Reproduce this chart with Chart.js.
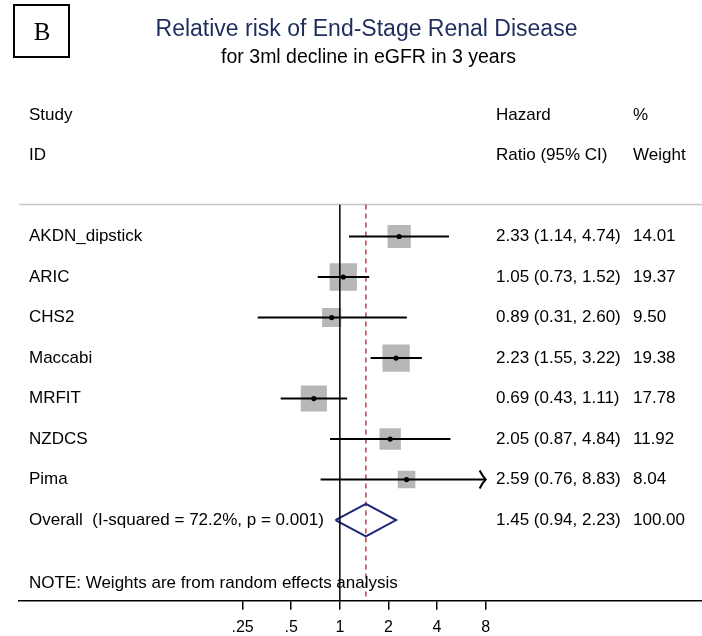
<!DOCTYPE html>
<html>
<head>
<meta charset="utf-8">
<script src="https://cdn.jsdelivr.net/npm/chart.js@4.4.0/dist/chart.umd.min.js"></script>
<style>
  html, body { margin: 0; padding: 0; background: #fff; }
  #chart { display: block; }
</style>
</head>
<body>
<canvas id="chart" width="702" height="636"></canvas>
<script>
// study rows, top to bottom
const studies = ["AKDN_dipstick", "ARIC", "CHS2", "Maccabi", "MRFIT", "NZDCS", "Pima"];
const hazard = [2.33, 1.05, 0.89, 2.23, 0.69, 2.05, 2.59];
const lower = [1.14, 0.73, 0.31, 1.55, 0.43, 0.87, 0.76];
const upper = [4.74, 1.52, 2.60, 3.22, 1.11, 4.84, 8.83];
const weights = [14.01, 19.37, 9.50, 19.38, 17.78, 11.92, 8.04];

// pooled estimate
const overallLabel = "Overall  (I-squared = 72.2%, p = 0.001)";
const overallHR = 1.45;
const overallLower = 0.94;
const overallUpper = 2.23;
const overallWeight = 100.0;

const tickValues = [0.25, 0.5, 1, 2, 4, 8];
const tickLabels = [".25", ".5", "1", "2", "4", "8"];

const FONT = '"Liberation Sans", Arial, sans-serif';
const yTop = -0.79;
const yBottom = 8.99;
const overallRow = studies.length;
const axisMax = tickValues[tickValues.length - 1];

const ciLabel = (e, l, u) => `${e.toFixed(2)} (${l.toFixed(2)}, ${u.toFixed(2)})`;

const forestText = {
  id: "forestText",
  beforeDatasetsDraw(chart) {
    const { ctx, chartArea } = chart;
    ctx.save();
    ctx.strokeStyle = "#c4c4c4";
    ctx.lineWidth = 1.5;
    ctx.beginPath();
    ctx.moveTo(chartArea.left, chartArea.top);
    ctx.lineTo(chartArea.right, chartArea.top);
    ctx.stroke();
    ctx.restore();
  },
  afterDatasetsDraw(chart) {
    const { ctx } = chart;
    const x = chart.scales.x;
    const y = chart.scales.y;
    ctx.save();
    ctx.strokeStyle = "#000";
    ctx.lineWidth = 2;
    upper.forEach((u, i) => {
      if (u <= axisMax) return;
      const px = x.getPixelForValue(axisMax);
      const py = y.getPixelForValue(i);
      ctx.beginPath();
      ctx.moveTo(px - 6, py - 9);
      ctx.quadraticCurveTo(px - 3, py - 3, px, py);
      ctx.quadraticCurveTo(px - 3, py + 3, px - 6, py + 9);
      ctx.stroke();
    });
    ctx.restore();
  },
  afterDraw(chart) {
    const { ctx, chartArea } = chart;
    const y = chart.scales.y;
    const colLabel = chartArea.left + 10;
    const colCI = 496;
    const colW = 633;
    ctx.save();

    // panel letter
    ctx.strokeStyle = "#000";
    ctx.lineWidth = 2;
    ctx.strokeRect(14, 5, 55, 52);
    ctx.fillStyle = "#000";
    ctx.font = '25px "Liberation Serif", "Times New Roman", serif';
    ctx.textAlign = "center";
    ctx.textBaseline = "alphabetic";
    ctx.fillText("B", 42, 40);

    // titles
    ctx.fillStyle = "#1e2d5e";
    ctx.font = "23px " + FONT;
    ctx.fillText("Relative risk of End-Stage Renal Disease", 366.5, 36);
    ctx.fillStyle = "#000";
    ctx.font = "19.5px " + FONT;
    ctx.fillText("for 3ml decline in eGFR in 3 years", 368.5, 63);

    // table text
    ctx.font = "17px " + FONT;
    ctx.textAlign = "left";
    ctx.textBaseline = "middle";
    const h1 = y.getPixelForValue(-3);
    const h2 = y.getPixelForValue(-2);
    ctx.fillText("Study", colLabel, h1);
    ctx.fillText("ID", colLabel, h2);
    ctx.fillText("Hazard", colCI, h1);
    ctx.fillText("Ratio (95% CI)", colCI, h2);
    ctx.fillText("%", colW, h1);
    ctx.fillText("Weight", colW, h2);

    studies.forEach((s, i) => {
      const py = y.getPixelForValue(i);
      ctx.fillText(s, colLabel, py);
      ctx.fillText(ciLabel(hazard[i], lower[i], upper[i]), colCI, py);
      ctx.fillText(weights[i].toFixed(2), colW, py);
    });
    const po = y.getPixelForValue(overallRow);
    ctx.fillText(overallLabel, colLabel, po);
    ctx.fillText(ciLabel(overallHR, overallLower, overallUpper), colCI, po);
    ctx.fillText(overallWeight.toFixed(2), colW, po);

    ctx.fillText("NOTE: Weights are from random effects analysis", colLabel, y.getPixelForValue(8.55));
    ctx.restore();
  }
};

const ciData = [];
studies.forEach((s, i) => {
  ciData.push({ x: lower[i], y: i });
  ciData.push({ x: Math.min(upper[i], axisMax), y: i });
  ciData.push({ x: Math.min(upper[i], axisMax), y: null });
});

const config = {
  type: "scatter",
  data: {
    datasets: [
      {
        label: "estimate",
        data: studies.map((s, i) => ({ x: hazard[i], y: i })),
        pointStyle: "circle",
        pointRadius: 2.6,
        pointBorderWidth: 0,
        backgroundColor: "#000",
        order: 0
      },
      {
        label: "null",
        type: "line",
        showLine: true,
        data: [{ x: 1, y: yTop }, { x: 1, y: yBottom }],
        borderColor: "#000",
        borderWidth: 1.5,
        pointRadius: 0,
        order: 1
      },
      {
        label: "ci",
        type: "line",
        showLine: true,
        spanGaps: false,
        data: ciData,
        borderColor: "#000",
        borderWidth: 2,
        pointRadius: 0,
        order: 2
      },
      {
        label: "overall",
        type: "line",
        showLine: true,
        data: [
          { x: overallLower, y: overallRow },
          { x: overallHR, y: overallRow - 0.4 },
          { x: overallUpper, y: overallRow },
          { x: overallHR, y: overallRow + 0.4 },
          { x: overallLower, y: overallRow }
        ],
        borderColor: "#1b2676",
        borderWidth: 2,
        pointRadius: 0,
        order: 2
      },
      {
        label: "overall line",
        type: "line",
        showLine: true,
        data: [{ x: overallHR, y: yTop }, { x: overallHR, y: yBottom }],
        borderColor: "#b3262a",
        borderWidth: 1.3,
        borderDash: [5, 4],
        pointRadius: 0,
        order: 3
      },
      {
        label: "weight",
        data: studies.map((s, i) => ({ x: hazard[i], y: i })),
        pointStyle: "rect",
        pointRadius: (c) => (6.2 * Math.sqrt(weights[c.dataIndex] || 0)) / Math.SQRT2,
        pointBorderWidth: 0,
        backgroundColor: "#b7b7b7",
        order: 4
      }
    ]
  },
  options: {
    responsive: false,
    animation: false,
    devicePixelRatio: 1,
    events: [],
    layout: { autoPadding: false, padding: { top: 204.5, left: 19, right: 0, bottom: 0 } },
    plugins: {
      legend: { display: false },
      tooltip: { enabled: false }
    },
    scales: {
      x: {
        type: "logarithmic",
        min: 0.0103,
        max: 175,
        afterBuildTicks: (s) => {
          s.ticks = tickValues.map((v) => ({ value: v }));
        },
        afterFit: (s) => {
          s.height = 35.3;
          s.paddingLeft = 0;
          s.paddingRight = 0;
        },
        ticks: {
          autoSkip: false,
          maxRotation: 0,
          color: "#000",
          padding: 8,
          font: { family: FONT, size: 16 },
          callback: (v) => tickLabels[tickValues.indexOf(v)]
        },
        grid: {
          display: true,
          drawOnChartArea: false,
          drawTicks: true,
          tickLength: 9,
          color: "#000",
          lineWidth: 1.5
        },
        border: { display: true, color: "#000", width: 1.5 }
      },
      y: {
        type: "linear",
        min: yTop,
        max: yBottom,
        reverse: true,
        display: false
      }
    }
  },
  plugins: [forestText]
};

new Chart(document.getElementById("chart"), config);
</script>
</body>
</html>
